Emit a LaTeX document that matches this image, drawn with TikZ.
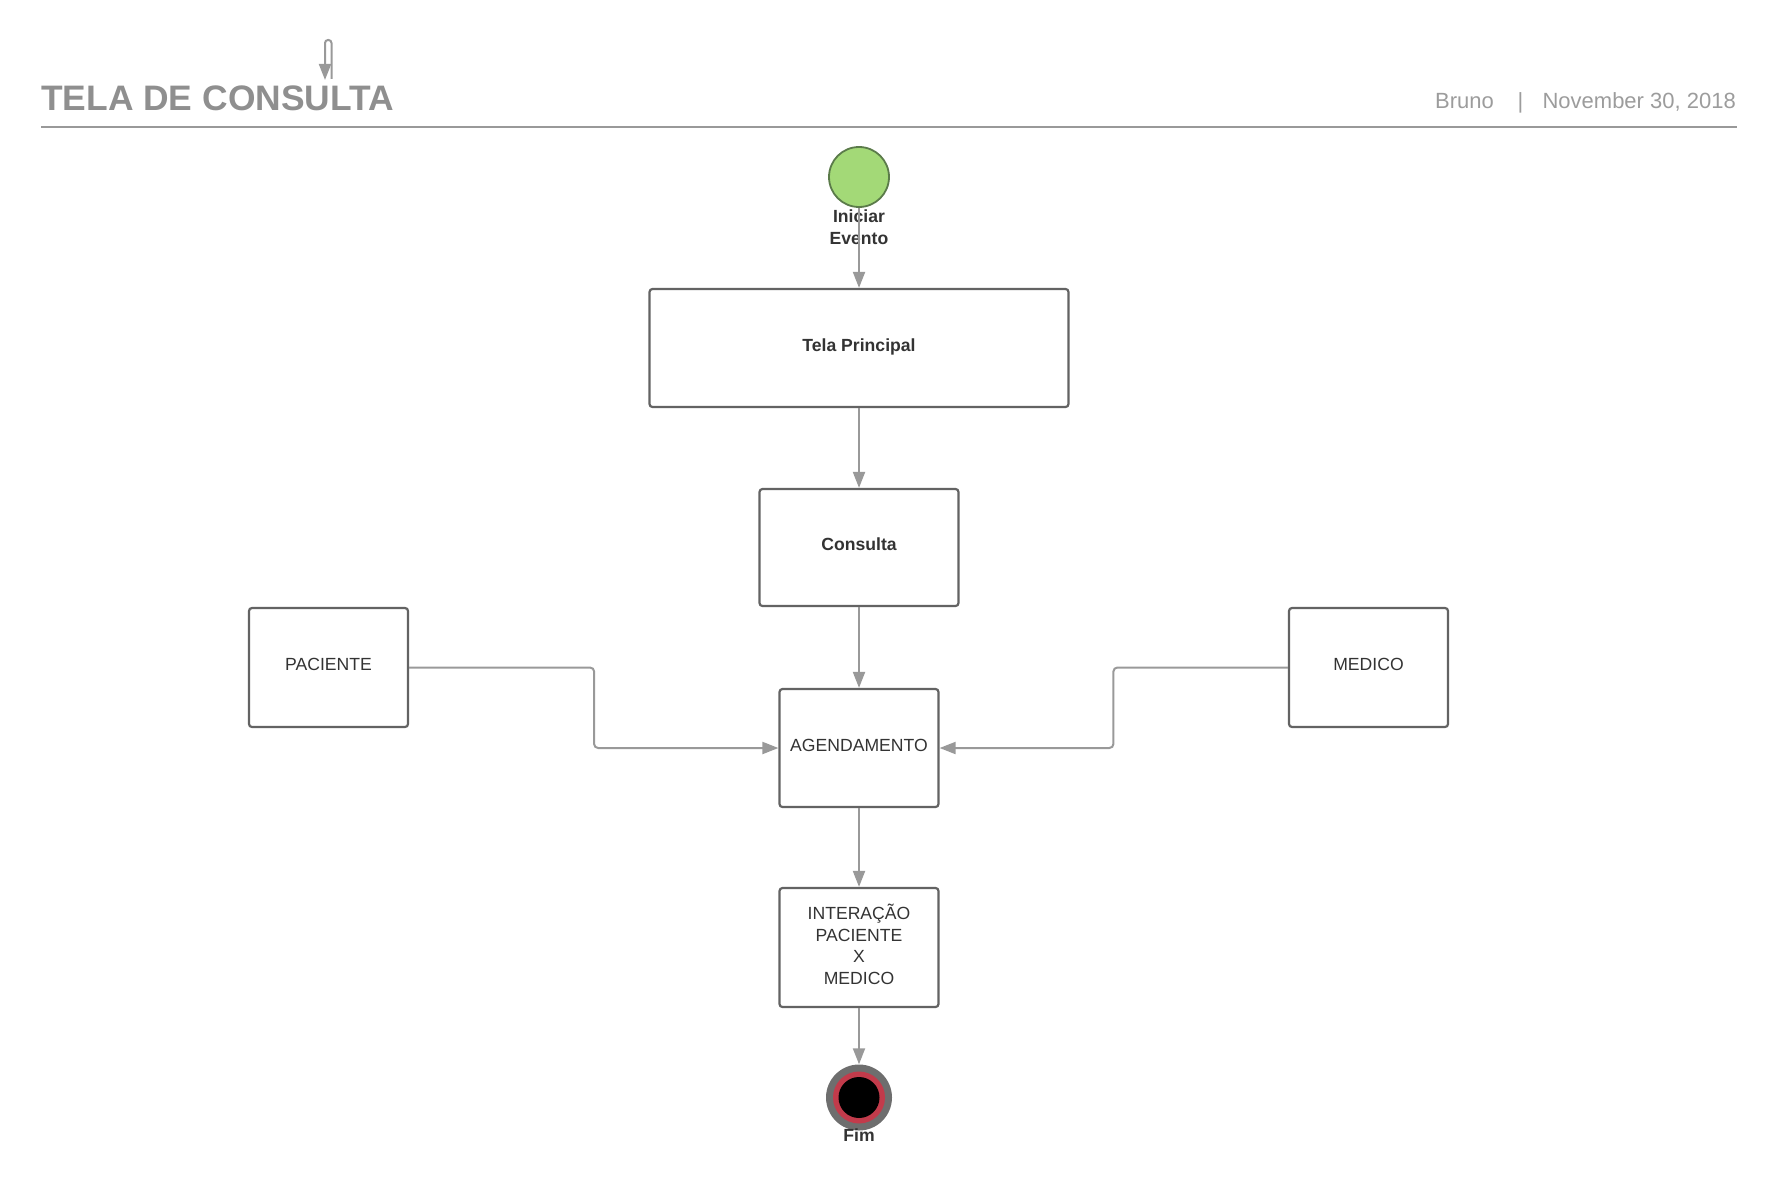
\documentclass[tikz,border=0pt]{standalone}
\usepackage{fontspec}
\setmainfont{Liberation Sans}
\usetikzlibrary{arrows.meta, positioning}
\definecolor{hdrgray}{HTML}{8F8F8F}
\definecolor{subgray}{HTML}{9C9C9C}
\definecolor{boxline}{HTML}{636363}
\definecolor{connline}{HTML}{999999}
\definecolor{txt}{HTML}{333333}
\definecolor{startfill}{HTML}{A3D977}
\definecolor{startline}{HTML}{5B7B4A}
\definecolor{endring}{HTML}{6E6E6E}
\definecolor{endred}{HTML}{C23B4B}

\begin{document}
\begin{tikzpicture}[x=1pt, y=-1pt,
  box/.style={draw=boxline, line width=2.2pt, rounded corners=3pt, text=txt,
    font=\fontsize{17.6}{21.5}\selectfont, align=center, inner sep=0pt,
    text depth=6pt},
  oneline/.style={text height=12.6pt},
  boldbox/.style={box, oneline, font=\fontsize{17.6}{21.5}\selectfont\bfseries},
  lbl/.style={text=txt, font=\fontsize{17.6}{22.5}\selectfont\bfseries, align=center, inner sep=0pt},
  conn/.style={draw=connline, line width=2pt, -{Triangle[length=16pt, width=12pt]}}
]
  \useasboundingbox (0,0) rectangle (1777,1188);
  % Header
  \node[anchor=base west, text=hdrgray, inner sep=0pt,
    font=\fontsize{35.4}{40}\selectfont\bfseries] (title) at (41,111) {TELA DE CONSULTA};
  \node[anchor=base west, text=subgray, inner sep=0pt,
    font=\fontsize{22}{26}\selectfont] (author) at (1435,108.3) {Bruno};
  \node[anchor=base, text=subgray, inner sep=0pt,
    font=\fontsize{22}{26}\selectfont] (sep) at (1520.5,108.3) {|};
  \node[anchor=base east, text=subgray, inner sep=0pt,
    font=\fontsize{22}{26}\selectfont] (date) at (1736,108.3) {November 30, 2018};
  \draw[connline, line width=2pt] (41,127.5) -- (1737,127.5);
  \coordinate (loopA) at (331.5,79);
  \coordinate (loopB) at (325,80);
  \draw[conn, rounded corners=3pt] (loopA) -- (331.5,40) -- (325,40) -- (loopB);
  % Flow nodes
  \node[circle, draw=startline, fill=startfill, line width=1.8pt, minimum size=60pt,
    inner sep=0pt] (ini) at (859,177) {};
  \node[lbl] (iniLbl) at (859,227) {Iniciar\\Evento};
  \node[boldbox, minimum width=419pt, minimum height=118pt] (tela) at (859,348) {Tela Principal};
  \node[boldbox, minimum width=199pt, minimum height=117pt] (cons) at (859,547.5) {Consulta};
  \node[box, oneline, minimum width=159pt, minimum height=119pt] (pac) at (328.5,667.5) {PACIENTE};
  \node[box, oneline, minimum width=159pt, minimum height=119pt] (med) at (1368.5,667.5) {MEDICO};
  \node[box, oneline, minimum width=159pt, minimum height=118pt] (agen) at (859,748) {AGENDAMENTO};
  \node[box, minimum width=159pt, minimum height=119pt] (inter) at (859,947.5)
    {INTERAÇÃO\\PACIENTE\\X\\MEDICO};
  % End marker
  \node[circle, fill=endring, minimum size=66pt, inner sep=0pt] (fim) at (859,1097.5) {};
  \node[circle, fill=endred, minimum size=52pt, inner sep=0pt] at (fim) {};
  \node[circle, fill=black, minimum size=41pt, inner sep=0pt] at (fim) {};
  \node[lbl] (fimLbl) at (859,1135) {Fim};
  % Arrows
  \foreach \a/\b in {ini/tela, tela/cons, cons/agen, agen/inter, inter/fim}
    \draw[conn] (\a.south) -- (\b.north);
  \draw[conn, rounded corners=4pt] (pac.east) -- ++(185,0) |- (agen.west);
  \draw[conn, rounded corners=4pt] (med.west) -- ++(-174.5,0) |- (agen.east);
\end{tikzpicture}
\end{document}
